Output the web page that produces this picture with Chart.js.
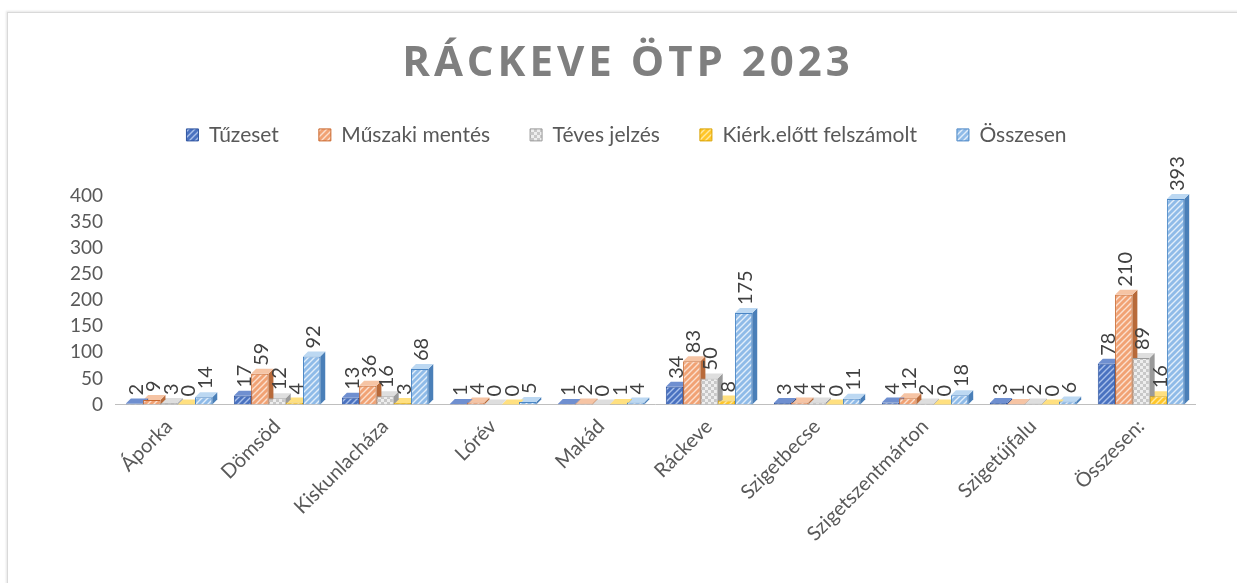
<!DOCTYPE html>
<html>
<head>
<meta charset="utf-8">
<script src="https://cdn.jsdelivr.net/npm/chart.js@4"></script>
<style>
  html, body { margin: 0; padding: 0; background: #fff; }
  #wrap { position: relative; width: 1237px; height: 583px; overflow: hidden; }
  #frame { position: absolute; left: 7px; top: 12px; width: 1240px; height: 590px;
           border: 1px solid #d9d9d9; box-shadow: -1px -1px 2px #e6e6e6; }
  canvas { position: absolute; left: 0; top: 0; }
</style>
</head>
<body>
<div id="wrap">
  <div id="frame"></div>
  <canvas id="chart" width="1237" height="583"></canvas>
</div>
<script>
const towns = ['Áporka', 'Dömsöd', 'Kiskunlacháza', 'Lórév', 'Makád', 'Ráckeve',
  'Szigetbecse', 'Szigetszentmárton', 'Szigetújfalu', 'Összesen:']

const tuzeset = [2, 17, 13, 1, 1, 34, 3, 4, 3, 78]
const muszaki = [9, 59, 36, 4, 2, 83, 4, 12, 1, 210]
const teves = [3, 12, 16, 0, 0, 50, 4, 2, 2, 89]
const kierk = [0, 4, 3, 0, 1, 8, 0, 0, 0, 16]
const osszesen = [14, 92, 68, 5, 4, 175, 11, 18, 6, 393]

const yTicks = [0, 50, 100, 150, 200, 250, 300, 350, 400]

// hatch patterns, roughly like the excel fills
function stripes(base, line, kind) {
  const c = document.createElement('canvas')
  c.width = 6
  c.height = 6
  const g = c.getContext('2d')
  g.fillStyle = base
  g.fillRect(0, 0, 6, 6)
  g.strokeStyle = line
  g.lineWidth = 1.4
  if (kind === 'check') {
    g.fillStyle = line
    g.fillRect(0, 0, 3, 3)
    g.fillRect(3, 3, 3, 3)
  } else {
    g.beginPath()
    g.moveTo(0, 6); g.lineTo(6, 0)
    g.moveTo(-3, 3); g.lineTo(3, -3)
    g.moveTo(3, 9); g.lineTo(9, 3)
    g.stroke()
  }
  return g.createPattern(c, 'repeat')
}

const ctx = document.getElementById('chart').getContext('2d')

const fills = {
  blue: stripes('#4a72c0', '#a9c0ea'),
  orange: stripes('#f1a274', '#fbe0cf'),
  gray: stripes('#c8c8c8', '#eeeeee', 'check'),
  yellow: stripes('#ffc629', '#ffe9a0'),
  light: stripes('#8fbbe8', '#e2eefa'),
}
// side / top faces for the fake 3d look
const faces = [
  ['#2f4f8f', '#6f8fd0'],
  ['#b86a3a', '#f6c4a4'],
  ['#9a9a9a', '#dedede'],
  ['#c99500', '#ffe080'],
  ['#4a7fb8', '#bcd8f2'],
]
const depth = 5

const fake3d = {
  id: 'fake3d',
  beforeDatasetsDraw(chart) {
    const c = chart.ctx
    c.save()
    for (let i = chart.data.datasets.length - 1; i >= 0; i--) {
      const meta = chart.getDatasetMeta(i)
      meta.data.forEach((bar) => {
        const l = bar.x - bar.width / 2
        const r = bar.x + bar.width / 2
        const t = bar.y
        const b = bar.base
        c.fillStyle = faces[i][0]
        c.beginPath()
        c.moveTo(r, t); c.lineTo(r + depth, t - depth)
        c.lineTo(r + depth, b - depth); c.lineTo(r, b)
        c.closePath(); c.fill()
        c.fillStyle = faces[i][1]
        c.beginPath()
        c.moveTo(l, t); c.lineTo(l + depth, t - depth)
        c.lineTo(r + depth, t - depth); c.lineTo(r, t)
        c.closePath(); c.fill()
      })
    }
    c.restore()
  }
}

const valueLabels = {
  id: 'valueLabels',
  afterDatasetsDraw(chart) {
    const c = chart.ctx
    c.save()
    c.font = '20px Lato'
    c.fillStyle = '#404040'
    c.textAlign = 'left'
    c.textBaseline = 'middle'
    chart.data.datasets.forEach((ds, i) => {
      const meta = chart.getDatasetMeta(i)
      meta.data.forEach((bar, j) => {
        c.save()
        c.translate(bar.x + 2, bar.y - depth - 3)
        c.rotate(-Math.PI / 2)
        c.fillText(String(ds.data[j]), 0, 0)
        c.restore()
      })
    })
    c.restore()
  }
}

// bigger title with letter spacing
const spacedTitle = {
  id: 'spacedTitle',
  afterDraw(chart) {
    const c = chart.ctx
    c.save()
    c.font = 'bold 42px "Open Sans"'
    c.fillStyle = '#7f7f7f'
    c.letterSpacing = '4px'
    c.textAlign = 'center'
    c.textBaseline = 'middle'
    c.fillText('RÁCKEVE ÖTP 2023', 628, 64)
    c.restore()
  }
}

const legendGap = {
  id: 'legendGap',
  beforeInit(chart) {
    const fit = chart.legend.fit
    chart.legend.fit = function () {
      fit.bind(chart.legend)()
      this.height += 40
    }
  }
}

function ds(label, data, fill, border) {
  return {
    label: label,
    data: data,
    backgroundColor: fill,
    borderColor: border,
    borderWidth: 1,
    categoryPercentage: 0.8,
    barPercentage: 1.0,
  }
}

new Chart(ctx, {
  type: 'bar',
  data: {
    labels: towns,
    datasets: [
      ds('Tűzeset', tuzeset, fills.blue, '#2f55a0'),
      ds('Műszaki mentés', muszaki, fills.orange, '#c9682e'),
      ds('Téves jelzés', teves, fills.gray, '#9a9a9a'),
      ds('Kiérk.előtt felszámolt', kierk, fills.yellow, '#d9a200'),
      ds('Összesen', osszesen, fills.light, '#4a86c5'),
    ]
  },
  options: {
    responsive: false,
    animation: false,
    layout: { padding: { left: 58, right: 42, top: 14, bottom: 27 } },
    plugins: {
      title: {
        display: true,
        text: 'RÁCKEVE ÖTP 2023',
        color: 'rgba(0,0,0,0)',
        font: { family: 'Open Sans', size: 42, weight: 'bold' },
        padding: { top: 20, bottom: 0 },
      },
      legend: {
        position: 'top',
        labels: {
          font: { family: 'Lato', size: 21 },
          color: '#595959',
          boxWidth: 12,
          boxHeight: 12,
          padding: 40,
        }
      },
      tooltip: { enabled: false },
    },
    scales: {
      x: {
        grid: { display: false, drawTicks: false },
        border: { color: '#bfbfbf', width: 1 },
        ticks: {
          font: { family: 'Lato', size: 20 },
          color: '#595959',
          maxRotation: 45,
          minRotation: 45,
          padding: 10,
        }
      },
      y: {
        min: 0,
        max: 400,
        afterBuildTicks(axis) {
          axis.ticks = yTicks.map((v) => ({ value: v }))
        },
        grid: { display: false, drawTicks: false },
        border: { display: false },
        ticks: {
          font: { family: 'Lato', size: 19 },
          color: '#595959',
          padding: 12,
          autoSkip: false,
        }
      }
    }
  },
  plugins: [fake3d, valueLabels, spacedTitle, legendGap]
})
</script>
</body>
</html>
